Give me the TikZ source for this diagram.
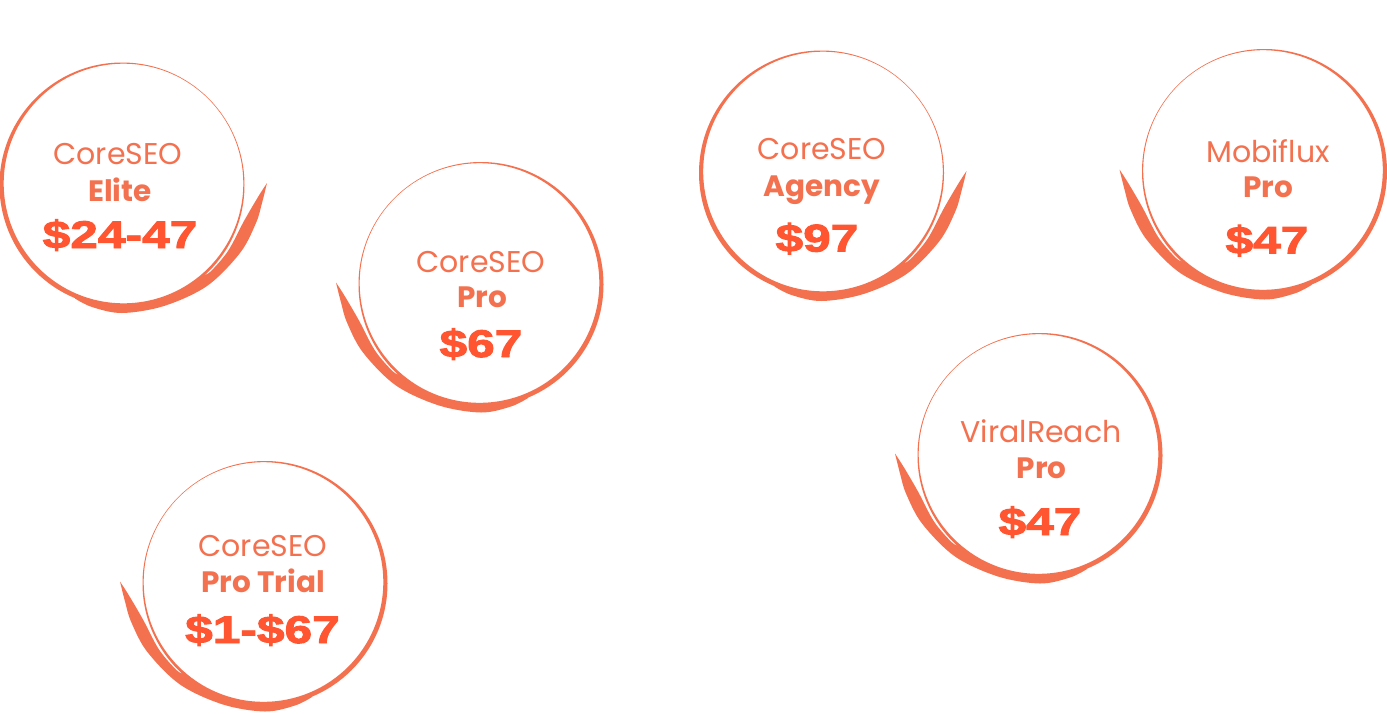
\documentclass[tikz,border=0pt]{standalone}
\usepackage{fontspec}
\setmainfont{Poppins}
\newfontfamily\pricefont{Liberation Sans}[BoldFeatures={FakeBold=2.5}, FakeStretch=1.29]
\definecolor{ringc}{HTML}{F4714F}
\definecolor{namec}{HTML}{F4714F}
\definecolor{pricec}{HTML}{FF5530}
\begin{document}
\begin{tikzpicture}[x=1pt,y=-1pt,
  ring/.style={fill=ringc, even odd rule},
  swoosh/.style={fill=ringc},
  nametext/.style={anchor=base, text=namec, font=\fontsize{30}{32}\selectfont, inner sep=0pt},
  tiertext/.style={anchor=base, text=namec, font=\fontsize{29.5}{32}\selectfont\bfseries, inner sep=0pt},
  pricetext/.style={anchor=base, text=pricec, font=\fontsize{38.5}{40}\selectfont\pricefont\bfseries, inner sep=0pt},
  badge/.pic={
    \fill[ring] (0,0) circle (122.5) (-1.5,-1.5) circle (119.8);
    \fill[swoosh] plot[smooth,tension=0.55] coordinates {(-145,-2) (-140,18) (-134,38) (-118,68) (-85,101) (-42,121) (0,128) (30,122) (47,113.5)}
      -- plot[smooth,tension=0.55] coordinates {(47,111) (0,120.5) (-50,109.6) (-78,92) (-88,87) (-106,66) (-122,36) (-136,12) (-145,-2)} -- cycle;
  }
]
\fill[white] (0,0) rectangle (1387,713);
\useasboundingbox (0,0) rectangle (1387,713);

% badges
\pic (b1) [xscale=-1] at (122,185) {badge};
\pic (b2) at (481,284.5) {badge};
\pic (b3) [xscale=-1] at (821.5,173) {badge};
\pic (b4) at (1264.5,171.5) {badge};
\pic (b5) at (1040,455.5) {badge};
\pic (b6) at (265,583.5) {badge};

% texts
\node[nametext] (n1) at (118,164.5) {CoreSEO};
\node[tiertext] (t1) at (120,201.8) {Elite};
\node[pricetext] (p1) at (120,248) {\$24-47};

\node[nametext] (n2) at (481,272.2) {CoreSEO};
\node[tiertext] (t2) at (482,307) {Pro};
\node[pricetext] (p2) at (481,357) {\$67};

\node[nametext] (n3) at (822,159.5) {CoreSEO};
\node[tiertext] (t3) at (822,196.3) {Agency};
\node[pricetext] (p3) at (817,251.5) {\$97};

\node[nametext] (n4) at (1268,162) {Mobiflux};
\node[tiertext] (t4) at (1268,197.3) {Pro};
\node[pricetext] (p4) at (1267,253.5) {\$47};

\node[nametext] (n5) at (1041,442.5) {ViralReach};
\node[tiertext] (t5) at (1041.7,478.8) {Pro};
\node[pricetext] (p5) at (1040,535) {\$47};

\node[nametext] (n6) at (263,556.3) {CoreSEO};
\node[tiertext] (t6) at (263,592.3) {Pro Trial};
\node[pricetext] (p6) at (262.5,643) {\$1-\$67};
\end{tikzpicture}
\end{document}
